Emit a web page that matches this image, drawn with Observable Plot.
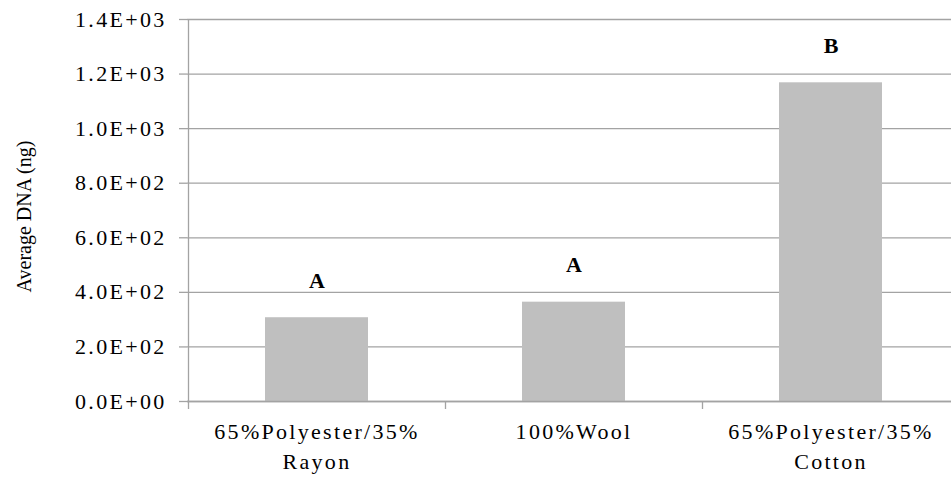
<!DOCTYPE html>
<html>
<head>
<meta charset="utf-8">
<script src="https://cdn.jsdelivr.net/npm/d3@7"></script>
<script src="https://cdn.jsdelivr.net/npm/@observablehq/plot@0.6"></script>
<style>
  html, body { margin: 0; padding: 0; background: #fff; overflow: hidden; }
  #chart svg { max-width: none; display: block; }
  [aria-label="x-axis tick label"] text,
  [aria-label="y-axis tick label"] text { letter-spacing: 2.3px; }
</style>
</head>
<body>
<div id="chart"></div>
<script>
// Fabric types and the average DNA recovered from each (ng)
const fabrics = ["65%Polyester/35%\nRayon", "100%Wool", "65%Polyester/35%\nCotton"];
const avgDNA = [307, 364, 1168];
// Statistical grouping letters shown above the bars
const groups = ["A", "A", "B"];
// Y axis ticks and their scientific-notation labels
const yTicks = [0, 200, 400, 600, 800, 1000, 1200, 1400];
const yTickLabels = ["0.0E+00", "2.0E+02", "4.0E+02", "6.0E+02", "8.0E+02", "1.0E+03", "1.2E+03", "1.4E+03"];

const rows = fabrics.map((f, i) => ({fabric: f, dna: avgDNA[i], group: groups[i]}));

const lineColor = "#A3A3A3";
const serif = "'Liberation Serif', 'Times New Roman', serif";

// Axis line on the left and the tick marks between categories
function categoryTicks(index, scales, values, dims) {
  const g = d3.create("svg:g").attr("stroke", lineColor).attr("stroke-width", 1.3);
  const base = dims.height - dims.marginBottom;
  fabrics.forEach((c, i) => {
    const x = Math.round(scales.x(c)) + 0.5;
    g.append("line")
      .attr("x1", x).attr("x2", x)
      .attr("y1", i === 0 ? dims.marginTop : base)
      .attr("y2", base + 8);
  });
  return g.node();
}

const chart = Plot.plot({
  width: 960,
  height: 480,
  marginLeft: 187,
  marginRight: 0,
  marginTop: 19,
  marginBottom: 79,
  style: {fontFamily: serif, fontSize: "22px", color: "#000", background: "#fff"},
  x: {domain: fabrics, padding: 0, label: null},
  y: {domain: [0, 1400], label: null},
  marks: [
    Plot.gridY(yTicks, {stroke: lineColor, strokeOpacity: 1, strokeWidth: 1.3}),
    Plot.barY(rows, {x: "fabric", y: "dna", fill: "#BFBFBF", insetLeft: 77, insetRight: 77}),
    Plot.ruleY([0], {stroke: lineColor, strokeWidth: 1.3}),
    Plot.axisY(yTicks, {
      tickSize: 8, tickPadding: 13, stroke: lineColor, strokeWidth: 1.3,
      tickFormat: d => yTickLabels[yTicks.indexOf(d)],
      fontSize: 22, fontFamily: serif, fill: "#000", label: null
    }),
    Plot.axisX({tickSize: 0, tickPadding: 16, fontSize: 22, fontFamily: serif, lineHeight: 1.36, fill: "#000", label: null}),
    categoryTicks,
    Plot.text(rows, {x: "fabric", y: "dna", text: "group", dy: -37, fontWeight: "bold", fontSize: 22, fontFamily: serif, fill: "#000"}),
    Plot.text(["Average DNA (ng)"], {
      frameAnchor: "left", textAnchor: "middle", rotate: -90,
      dx: -163, dy: 6, fontSize: 20, fontFamily: serif, fill: "#000"
    })
  ]
});

document.getElementById("chart").appendChild(chart);
</script>
</body>
</html>
